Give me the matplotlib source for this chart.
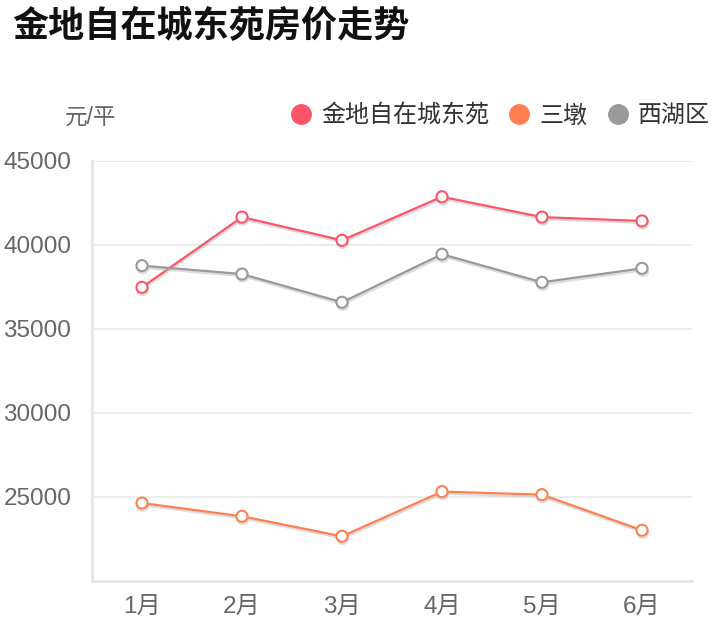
import matplotlib
matplotlib.use("Agg")
import matplotlib.pyplot as plt
from matplotlib.lines import Line2D
from matplotlib import patheffects

plt.rcParams['font.family'] = ['Liberation Sans', 'Noto Sans CJK SC', 'DejaVu Sans']

# Data
months = ["1月", "2月", "3月", "4月", "5月", "6月"]
jindi = [37480, 41660, 40280, 42870, 41660, 41430]
sandun = [24640, 23850, 22660, 25320, 25140, 23020]
xihu = [38770, 38270, 36590, 39450, 37780, 38610]
y_ticks = [25000, 30000, 35000, 40000, 45000]

series = [
  ("金地自在城东苑", jindi, "#fc5468"),
  ("三墩", sandun, "#ff7f50"),
  ("西湖区", xihu, "#999999"),
]

fig = plt.figure(figsize=(7.18, 6.4), dpi=100)
ax = fig.add_axes([92 / 718, 59 / 640, 600 / 718, 420 / 640])

xs = list(range(len(months)))
shadow = [patheffects.SimpleLineShadow(offset=(0.5, -1.5), shadow_color="#bbbbbb", alpha=0.5),
          patheffects.Normal()]
for name, values, colour in series:
  ax.plot(xs, values, color=colour, linewidth=1.6, marker="o", markersize=8,
          markerfacecolor="white", markeredgecolor=colour, markeredgewidth=1.5,
          path_effects=shadow, zorder=3)

ax.set_xlim(-0.5, len(months) - 0.5)
ax.set_ylim(20000, 45000)
ax.set_xticks(xs)
ax.set_xticklabels(months)
ax.set_yticks(y_ticks)

ax.grid(axis="y", color="#e9e9e9", linewidth=1.2)
ax.set_axisbelow(True)
for side in ("top", "right"):
  ax.spines[side].set_visible(False)
for side in ("left", "bottom"):
  ax.spines[side].set_color("#e6e6e6")
  ax.spines[side].set_linewidth(2)

ax.tick_params(axis="both", length=0, labelsize=17.5, labelcolor="#666666")
ax.tick_params(axis="y", pad=15)
ax.tick_params(axis="x", pad=11)

fig.text(12 / 718, 1 - 28 / 640, "金地自在城东苑房价走势", fontsize=26, fontweight="bold",
         color="#111111", va="center", ha="left")
fig.text(65 / 718, 1 - 117 / 640, "元/平", fontsize=16.3, color="#666666", va="center", ha="left")

handles = [Line2D([], [], linestyle="none", marker="o", markersize=14,
                  markerfacecolor=colour, markeredgecolor=colour, label=name)
           for name, values, colour in series]
fig.legend(handles=handles, loc="center right", bbox_to_anchor=(722 / 718, 1 - 116 / 640),
           ncol=3, frameon=False, fontsize=17.3, handlelength=0.8, handletextpad=0.45,
           columnspacing=0.85, labelcolor="#333333", borderpad=0)

fig.savefig("out.png", dpi=100)
